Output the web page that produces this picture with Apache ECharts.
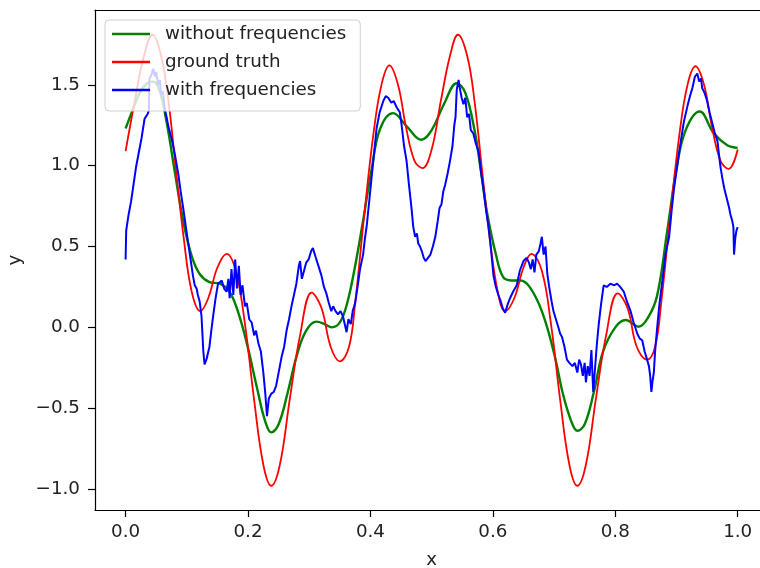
<!DOCTYPE html>
<html>
<head>
<meta charset="utf-8">
<script src="https://cdn.jsdelivr.net/npm/echarts@6/dist/echarts.min.js"></script>
<style>
html,body{margin:0;padding:0;background:#fff;overflow:hidden;}
#c{width:760px;height:568px;}
</style>
</head>
<body>
<div id="c"></div>
<script>
// ---- data ----
const seriesNames = ["without frequencies", "ground truth", "with frequencies"];
const xTicks = [0, 0.2, 0.4, 0.6, 0.8, 1.0];
const yTicks = [-1.0, -0.5, 0.0, 0.5, 1.0, 1.5];

const withoutFrequencies = [
[0.000,1.23],[0.010,1.33],[0.023,1.45],[0.035,1.51],[0.045,1.52],[0.055,1.47],[0.067,1.27],
[0.080,0.97],[0.094,0.66],[0.108,0.44],[0.121,0.33],[0.137,0.28],[0.154,0.27],[0.170,0.22],
[0.185,0.08],[0.200,-0.13],[0.215,-0.38],[0.228,-0.58],[0.238,-0.65],[0.250,-0.60],[0.265,-0.40],
[0.280,-0.17],[0.295,-0.02],[0.312,0.035],[0.325,0.02],[0.337,0.00],[0.350,0.03],[0.362,0.15],
[0.375,0.38],[0.388,0.66],[0.402,0.98],[0.416,1.23],[0.437,1.325],[0.460,1.24],[0.483,1.16],
[0.500,1.22],[0.520,1.38],[0.541,1.51],[0.555,1.45],[0.570,1.22],[0.580,0.98],[0.590,0.72],
[0.605,0.45],[0.617,0.31],[0.630,0.29],[0.645,0.29],[0.660,0.25],[0.680,0.10],[0.700,-0.16],
[0.715,-0.42],[0.728,-0.58],[0.738,-0.64],[0.750,-0.60],[0.765,-0.40],[0.780,-0.15],[0.800,0.00],
[0.817,0.045],[0.838,0.004],[0.852,0.05],[0.868,0.19],[0.885,0.60],[0.900,0.98],[0.915,1.22],
[0.938,1.335],[0.961,1.20],[0.983,1.126],[1.000,1.11]
];

const groundTruth = [
[0.000,1.09],[0.015,1.40],[0.030,1.68],[0.044,1.81],[0.058,1.68],[0.070,1.40],[0.083,0.95],
[0.095,0.55],[0.108,0.22],[0.122,0.10],[0.135,0.18],[0.150,0.37],[0.165,0.455],[0.180,0.35],
[0.195,0.02],[0.210,-0.45],[0.225,-0.85],[0.238,-0.98],[0.252,-0.85],[0.268,-0.45],[0.285,-0.05],
[0.304,0.215],[0.320,0.12],[0.335,-0.12],[0.350,-0.21],[0.365,-0.12],[0.375,0.15],[0.390,0.70],
[0.405,1.20],[0.418,1.50],[0.431,1.62],[0.445,1.50],[0.458,1.24],[0.472,1.03],[0.485,0.985],
[0.500,1.10],[0.515,1.40],[0.530,1.68],[0.543,1.81],[0.558,1.68],[0.570,1.40],[0.583,0.95],
[0.595,0.55],[0.608,0.22],[0.620,0.10],[0.635,0.18],[0.650,0.37],[0.663,0.455],[0.680,0.35],
[0.695,0.02],[0.710,-0.45],[0.725,-0.85],[0.738,-0.98],[0.752,-0.85],[0.768,-0.45],[0.785,-0.05],
[0.804,0.21],[0.820,0.12],[0.835,-0.12],[0.852,-0.20],[0.865,-0.12],[0.875,0.15],[0.890,0.70],
[0.905,1.20],[0.918,1.50],[0.931,1.615],[0.945,1.50],[0.958,1.24],[0.972,1.03],[0.985,0.98],
[1.000,1.10]
];

const withFrequencies = [
[0.000,0.42],[0.001,0.60],[0.005,0.70],[0.009,0.78],[0.017,0.99],[0.026,1.17],[0.031,1.29],
[0.036,1.32],[0.038,1.34],[0.039,1.54],[0.042,1.56],[0.045,1.60],[0.048,1.55],[0.050,1.58],
[0.053,1.50],[0.056,1.53],[0.058,1.44],[0.061,1.46],[0.064,1.35],[0.067,1.30],[0.070,1.24],
[0.075,1.17],[0.080,1.08],[0.086,0.95],[0.090,0.84],[0.094,0.74],[0.100,0.58],[0.105,0.45],
[0.110,0.32],[0.113,0.26],[0.116,0.24],[0.118,0.20],[0.121,0.16],[0.124,0.07],[0.127,-0.15],
[0.129,-0.23],[0.132,-0.20],[0.137,-0.12],[0.140,-0.02],[0.143,0.07],[0.147,0.18],[0.151,0.27],
[0.157,0.29],[0.161,0.24],[0.165,0.22],[0.168,0.30],[0.170,0.18],[0.173,0.36],[0.176,0.20],
[0.179,0.42],[0.182,0.24],[0.185,0.38],[0.188,0.20],[0.191,0.26],[0.195,0.13],[0.198,0.15],
[0.202,0.05],[0.206,0.03],[0.210,-0.05],[0.213,-0.02],[0.217,-0.10],[0.221,-0.15],[0.225,-0.28],
[0.228,-0.40],[0.231,-0.55],[0.234,-0.44],[0.238,-0.41],[0.242,-0.40],[0.246,-0.36],[0.250,-0.28],
[0.255,-0.18],[0.259,-0.12],[0.263,-0.02],[0.267,0.05],[0.271,0.13],[0.275,0.20],[0.279,0.27],
[0.283,0.38],[0.285,0.41],[0.288,0.30],[0.291,0.31],[0.295,0.40],[0.299,0.42],[0.303,0.47],
[0.306,0.49],[0.310,0.44],[0.315,0.38],[0.320,0.32],[0.324,0.25],[0.328,0.21],[0.332,0.15],
[0.336,0.10],[0.339,0.13],[0.343,0.10],[0.347,0.08],[0.351,0.10],[0.355,0.07],[0.358,0.02],
[0.361,-0.03],[0.364,0.05],[0.368,0.02],[0.371,0.10],[0.375,0.15],[0.379,0.25],[0.383,0.36],
[0.388,0.45],[0.391,0.55],[0.394,0.63],[0.398,0.78],[0.402,0.93],[0.406,1.08],[0.410,1.23],
[0.415,1.33],[0.421,1.40],[0.425,1.43],[0.429,1.42],[0.434,1.39],[0.438,1.40],[0.443,1.36],
[0.448,1.33],[0.451,1.25],[0.455,1.12],[0.459,1.03],[0.463,0.88],[0.467,0.74],[0.470,0.62],
[0.473,0.56],[0.476,0.58],[0.478,0.52],[0.481,0.50],[0.484,0.47],[0.487,0.43],[0.490,0.41],
[0.494,0.43],[0.498,0.45],[0.502,0.50],[0.506,0.56],[0.510,0.66],[0.513,0.74],[0.516,0.76],
[0.519,0.84],[0.522,0.88],[0.526,0.95],[0.530,1.03],[0.534,1.12],[0.537,1.25],[0.539,1.30],
[0.541,1.47],[0.544,1.53],[0.546,1.48],[0.549,1.42],[0.552,1.38],[0.555,1.42],[0.558,1.30],
[0.561,1.32],[0.564,1.22],[0.568,1.20],[0.572,1.14],[0.577,1.08],[0.581,0.95],[0.585,0.85],
[0.589,0.72],[0.593,0.62],[0.597,0.48],[0.601,0.32],[0.605,0.25],[0.609,0.20],[0.612,0.17],
[0.616,0.12],[0.620,0.09],[0.624,0.14],[0.628,0.18],[0.633,0.22],[0.639,0.26],[0.644,0.35],
[0.650,0.41],[0.655,0.43],[0.659,0.40],[0.662,0.36],[0.665,0.42],[0.668,0.34],[0.671,0.45],
[0.675,0.47],[0.678,0.52],[0.680,0.56],[0.683,0.45],[0.686,0.50],[0.689,0.33],[0.692,0.25],
[0.696,0.16],[0.699,0.10],[0.703,0.05],[0.707,0.00],[0.710,-0.04],[0.713,-0.06],[0.717,-0.12],
[0.721,-0.20],[0.725,-0.22],[0.730,-0.24],[0.734,-0.22],[0.738,-0.28],[0.741,-0.20],[0.744,-0.23],
[0.747,-0.30],[0.750,-0.22],[0.752,-0.34],[0.755,-0.24],[0.758,-0.30],[0.761,-0.14],[0.764,-0.40],
[0.767,-0.25],[0.770,-0.10],[0.773,0.02],[0.777,0.15],[0.781,0.26],[0.786,0.25],[0.792,0.27],
[0.798,0.26],[0.803,0.27],[0.808,0.25],[0.814,0.22],[0.819,0.16],[0.825,0.10],[0.830,0.03],
[0.836,-0.04],[0.840,-0.07],[0.844,-0.08],[0.848,-0.15],[0.852,-0.20],[0.855,-0.24],[0.857,-0.30],
[0.859,-0.40],[0.861,-0.33],[0.863,-0.28],[0.865,-0.15],[0.868,-0.02],[0.872,0.14],[0.877,0.29],
[0.882,0.45],[0.888,0.56],[0.892,0.72],[0.896,0.86],[0.902,1.02],[0.907,1.15],[0.912,1.27],
[0.918,1.37],[0.922,1.43],[0.926,1.48],[0.930,1.55],[0.934,1.57],[0.937,1.52],[0.940,1.54],
[0.942,1.48],[0.946,1.45],[0.950,1.40],[0.954,1.33],[0.958,1.27],[0.962,1.21],[0.967,1.15],
[0.970,1.05],[0.972,0.99],[0.975,0.92],[0.978,0.86],[0.982,0.80],[0.986,0.74],[0.988,0.70],
[0.991,0.66],[0.993,0.62],[0.994,0.45],[0.996,0.55],[0.998,0.60],[1.000,0.62]
];

// ---- chart ----
const font = "DejaVu Sans";
const fs = 18.3;
const fmt = v => v.toFixed(1).replace('-', '\u2212');
const axisLineStyle = {color: '#000', width: 1.2};
const chart = echarts.init(document.getElementById('c'), null, {renderer: 'canvas'});
chart.setOption({
  animation: false,
  backgroundColor: '#fff',
  grid: {left: 95, right: -8.3, top: 10, bottom: 58, outerBoundsMode: 'none', containLabel: false, show: false},
  legend: {
    orient: 'vertical', left: 105, top: 20,
    data: seriesNames.map(n => ({name: n, icon: 'rect'})),
    itemWidth: 38, itemHeight: 2.4, itemGap: 8,
    padding: [4, 14, 11, 7],
    backgroundColor: 'rgba(255,255,255,0.8)',
    borderColor: '#d0d0d0', borderWidth: 1, borderRadius: 4,
    textStyle: {fontFamily: font, fontSize: fs, color: '#222', padding: [0, 0, 0, 10], lineHeight: 20}
  },
  xAxis: [{
    type: 'value', min: -0.05, max: 1.05, position: 'bottom',
    name: 'x', nameLocation: 'middle', nameGap: 41,
    nameTextStyle: {fontFamily: font, fontSize: fs, color: '#222'},
    axisLine: {show: true, onZero: false, lineStyle: axisLineStyle},
    axisTick: {show: true, length: 7, customValues: xTicks, lineStyle: axisLineStyle},
    axisLabel: {customValues: xTicks, formatter: fmt, margin: 13, fontFamily: font, fontSize: fs, color: '#222'},
    splitLine: {show: false}
  }, {
    type: 'value', min: -0.05, max: 1.05, position: 'top',
    axisLine: {show: true, onZero: false, lineStyle: axisLineStyle},
    axisTick: {show: false}, axisLabel: {show: false}, splitLine: {show: false}
  }],
  yAxis: {
    type: 'value', min: -1.13, max: 1.963,
    name: 'y', nameLocation: 'middle', nameGap: 60, nameRotate: 90,
    nameTextStyle: {fontFamily: font, fontSize: fs, color: '#222'},
    axisLine: {show: true, onZero: false, lineStyle: axisLineStyle},
    axisTick: {show: true, length: 7, customValues: yTicks, lineStyle: axisLineStyle},
    axisLabel: {customValues: yTicks, formatter: fmt, margin: 15, fontFamily: font, fontSize: fs, color: '#222'},
    splitLine: {show: false}
  },
  series: [
    {name: seriesNames[0], type: 'line', data: withoutFrequencies, smooth: 0.4, symbol: 'none',
     lineStyle: {color: '#008000', width: 2.4}, itemStyle: {color: '#008000'}},
    {name: seriesNames[1], type: 'line', data: groundTruth, smooth: 0.4, symbol: 'none',
     lineStyle: {color: '#ff0000', width: 1.8}, itemStyle: {color: '#ff0000'}},
    {name: seriesNames[2], type: 'line', data: withFrequencies, smooth: false, symbol: 'none',
     lineStyle: {color: '#0000ff', width: 2}, itemStyle: {color: '#0000ff'}}
  ]
});
</script>
</body>
</html>
